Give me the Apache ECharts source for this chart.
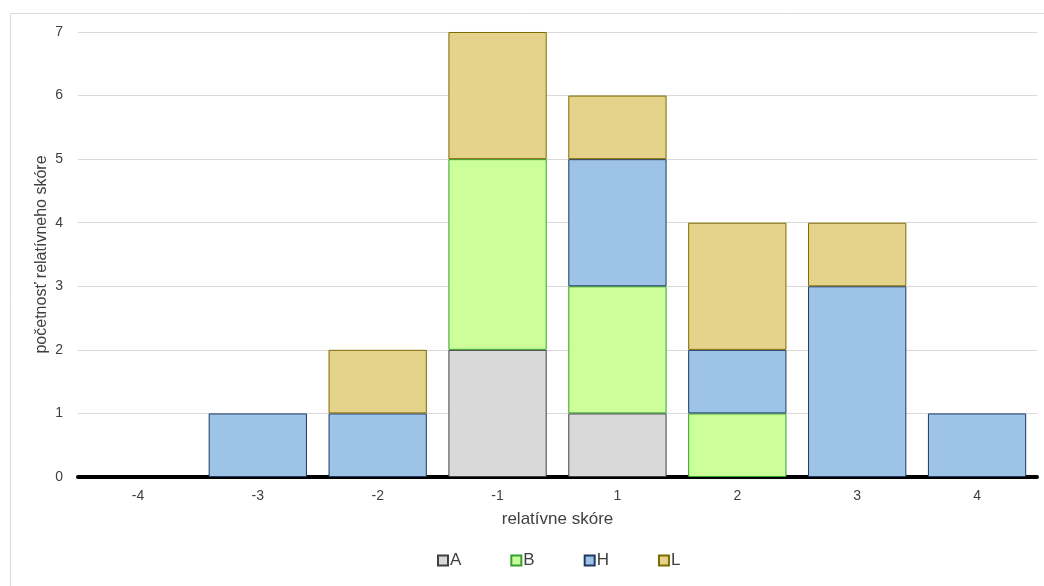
<!DOCTYPE html>
<html><head><meta charset="utf-8">
<script src="https://cdn.jsdelivr.net/npm/echarts@6/dist/echarts.min.js"></script>
<style>html,body{margin:0;padding:0;background:#fff}#c{width:1044px;height:586px}</style>
</head><body><div id="c"></div>
<script>
const categories = ['-4','-3','-2','-1','1','2','3','4'];
const seriesA = [0,0,0,2,1,0,0,0];
const seriesB = [0,0,0,3,2,1,0,0];
const seriesH = [0,1,1,0,2,1,3,1];
const seriesL = [0,0,1,2,1,2,1,0];
const yTicks = [0,1,2,3,4,5,6,7];

const font = 'Liberation Sans, Arial, sans-serif';
function mk(name, data, fill, border){
  return {name, type:'bar', stack:'s', data: data.map(v=>v===0?null:v), barCategoryGap:'18%',
    itemStyle:{color:fill, borderColor:border, borderWidth:1}};
}
const chart = echarts.init(document.getElementById('c'));
chart.setOption({
  animation:false,
  textStyle:{fontFamily:font},
  graphic:[{type:'rect', shape:{x:10.5,y:13.5,width:1100,height:700}, style:{fill:null, stroke:'#d9d9d9', lineWidth:1}, z:-1}],
  grid:{left:78, right:7, top:32, bottom:109, containLabel:false},
  xAxis:{type:'category', data:categories,
    axisLine:{lineStyle:{color:'#000', width:4}}, axisTick:{show:false},
    axisLabel:{color:'#404040', fontSize:14, margin:12, fontFamily:font},
    name:'relatívne skóre', nameLocation:'middle', nameGap:34, nameMoveOverlap:false,
    nameTextStyle:{color:'#404040', fontSize:17, fontFamily:font}},
  yAxis:{type:'value', min:yTicks[0], max:yTicks[yTicks.length-1], interval:1,
    axisLine:{show:false}, axisTick:{show:false},
    splitLine:{lineStyle:{color:'#d9d9d9', width:1}},
    axisLabel:{color:'#404040', fontSize:14, margin:15, fontFamily:font},
    name:'početnosť relatívneho skóre', nameLocation:'middle', nameGap:28, nameRotate:90, nameMoveOverlap:false,
    nameTextStyle:{color:'#404040', fontSize:16, fontFamily:font}},
  legend:{top:547, left:432, itemWidth:10, itemHeight:10, itemGap:49,
    icon:'rect', textStyle:{color:'#404040', fontSize:17, fontFamily:font, padding:[0,0,0,-3]},
    data:['A','B','H','L']},
  series:[
    mk('A', seriesA, '#d9d9d9', '#404040'),
    mk('B', seriesB, '#ccff99', '#33a02c'),
    mk('H', seriesH, '#9dc3e6', '#203864'),
    mk('L', seriesL, '#e6d38b', '#7f6a00')
  ]
});
</script></body></html>
